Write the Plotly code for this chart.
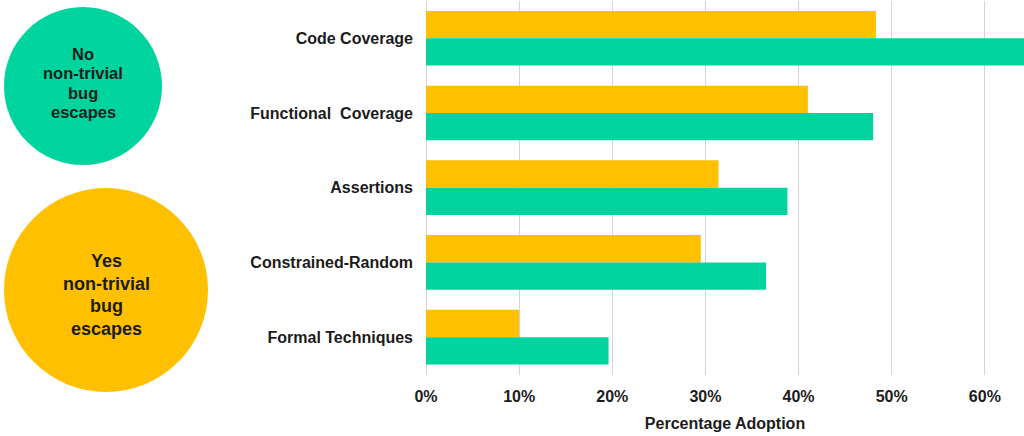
import plotly.graph_objects as go

# Verification techniques and their adoption rates (%)
techniques = ["Code Coverage", "Functional  Coverage", "Assertions",
              "Constrained-Random", "Formal Techniques"]
yes_escapes = [48.3, 41.0, 31.4, 29.5, 10.0]   # projects with non-trivial bug escapes
no_escapes = [66.0, 48.0, 38.8, 36.5, 19.6]    # projects without non-trivial bug escapes
x_ticks = [0, 10, 20, 30, 40, 50, 60]
x_tick_labels = ["0%", "10%", "20%", "30%", "40%", "50%", "60%"]
badge_no_lines = ["No", "non-trivial", "bug", "escapes"]
badge_yes_lines = ["Yes", "non-trivial", "bug", "escapes"]

GREEN = "#00D49E"
YELLOW = "#FFC000"
TEXT = "#1c1c1c"
FONT = "Liberation Sans, Arial, sans-serif"

W, H = 1024, 436

fig = go.Figure()
fig.add_trace(go.Bar(y=techniques, x=yes_escapes, orientation="h",
                     marker=dict(color=YELLOW, line=dict(width=0)),
                     name="Yes non-trivial bug escapes"))
fig.add_trace(go.Bar(y=techniques, x=no_escapes, orientation="h",
                     marker=dict(color=GREEN, line=dict(width=0)),
                     name="No non-trivial bug escapes"))


def px_x(p):
    return p / W


def px_y(p):
    return 1 - p / H


# Circular legend badges on the left, each with a stacked text label
badges = [
    dict(cx=83, cy=86, r=79, color=GREEN, size=16.5, lines=badge_no_lines,
         text_cy=83, spacing=19.5),
    dict(cx=106, cy=290, r=102, color=YELLOW, size=18, lines=badge_yes_lines,
         text_cy=295, spacing=22.4),
]
for b in badges:
    fig.add_shape(type="circle", xref="paper", yref="paper",
                  x0=px_x(b["cx"] - b["r"]), x1=px_x(b["cx"] + b["r"]),
                  y0=px_y(b["cy"] + b["r"]), y1=px_y(b["cy"] - b["r"]),
                  fillcolor=b["color"], line=dict(width=0), layer="below")
    n = len(b["lines"])
    for i, line in enumerate(b["lines"]):
        y_px = b["text_cy"] + (i - (n - 1) / 2) * b["spacing"]
        fig.add_annotation(x=px_x(b["cx"]), y=px_y(y_px), xref="paper", yref="paper",
                           text=f"<b>{line}</b>", showarrow=False,
                           xanchor="center", yanchor="middle",
                           font=dict(family=FONT, size=b["size"], color=TEXT))

fig.update_layout(
    width=W, height=H,
    margin=dict(l=0, r=0, t=0, b=0),
    paper_bgcolor="white", plot_bgcolor="white",
    barmode="group", bargap=0.268, bargroupgap=0,
    showlegend=False,
    font=dict(family=FONT, color=TEXT),
    xaxis=dict(domain=[426 / W, 1], range=[0, 64.2],
               tickvals=x_ticks, ticktext=[f"<b>{t}</b>" for t in x_tick_labels],
               tickfont=dict(size=16, color=TEXT),
               showgrid=True, gridcolor="#d4d4d4", gridwidth=1,
               zeroline=True, zerolinecolor="#d4d4d4", zerolinewidth=1,
               showline=False, ticks="", ticklabelstandoff=10,
               title=dict(text="<b>Percentage Adoption</b>",
                          font=dict(size=16, color=TEXT), standoff=14),
               automargin=False, fixedrange=True),
    yaxis=dict(domain=[1 - 374.5 / H, 1 - 0.9 / H], autorange="reversed",
               tickvals=techniques, ticktext=[f"<b>{t}</b>" for t in techniques],
               tickfont=dict(size=16, color=TEXT),
               showgrid=False, zeroline=False, showline=False, ticks="",
               ticklabelstandoff=12, automargin=False, fixedrange=True),
)

fig.write_html("out.html")
